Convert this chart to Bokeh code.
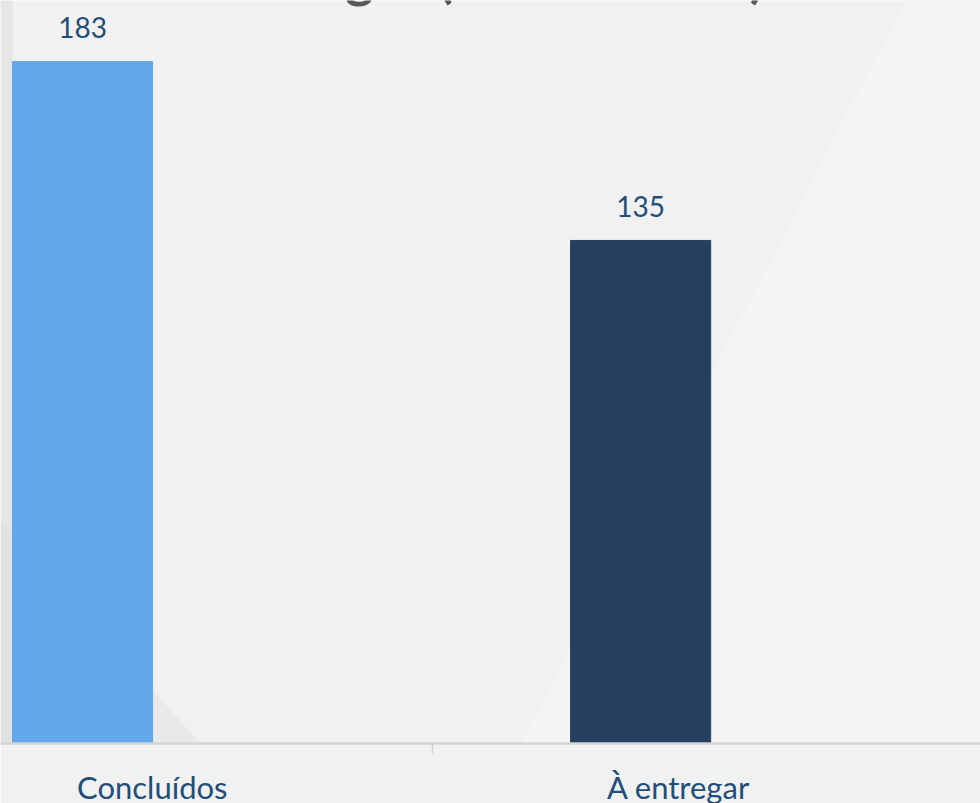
from bokeh.plotting import figure
from bokeh.models import Range1d, FixedTicker, ColumnDataSource
from bokeh.core.properties import value
from bokeh.embed import file_html
from bokeh.resources import INLINE

# ---- data ----
categories = ["Concluídos", "À entregar"]
counts = [183, 135]
bar_colors = ["#62A8EA", "#243F60"]
title_text = "Entregas (2020 - 2021)"

# ---- layout constants ----
X_START, X_END = -0.147, 1.609
Y_END = 199.4
BAR_WIDTH = 0.251
LABEL_SHIFT = [0.125, 0.068]
BOUNDARY = 0.627
PX = (X_END - X_START) / 980.0   # data units per pixel (x)
PY = Y_END / 743.0               # data units per pixel (y)

idx = list(range(len(categories)))
src = ColumnDataSource(dict(x=idx, top=counts, color=bar_colors,
                            label=[str(c) for c in counts]))

p = figure(frame_width=980, frame_height=743,
           x_range=Range1d(X_START, X_END), y_range=Range1d(0, Y_END),
           output_backend="svg", toolbar_location=None,
           y_axis_location=None, min_border=0)
p.background_fill_color = "#f1f1f1"
p.border_fill_color = "#f1f1f1"
p.outline_line_color = None
p.xgrid.visible = False
p.ygrid.visible = False

# subtle background decoration
def dx(px):
    return X_START + px * PX
def dy(py):
    return Y_END - py * PY
p.patch([dx(520), dx(980), dx(980), dx(905)], [dy(743), dy(743), dy(0), dy(0)],
        fill_color="#ffffff", fill_alpha=0.25, line_color=None)
p.patch([dx(0), dx(0), dx(200)], [dy(743), dy(520), dy(743)],
        fill_color="#d8d8d8", fill_alpha=0.3, line_color=None)
p.patch([dx(0), dx(12), dx(12), dx(0)], [dy(743), dy(743), dy(0), dy(0)],
        fill_color="#dcdcdc", fill_alpha=0.5, line_color=None)

# bars
p.vbar(x="x", top="top", width=BAR_WIDTH, bottom=0, color="color", source=src)

# value labels
p.text(x="x", y="top", text="label", source=src, text_align="center",
       text_baseline="alphabetic", y_offset=-34,
       text_font=value("Lato"), text_font_size="28px", text_color="#1F4E79")

# partially visible title (cut off at top)
p.text(x=[(X_START + X_END) / 2], y=[Y_END], text=[title_text],
       text_align="center", text_baseline="alphabetic", y_offset=-24,
       text_font=value("Lato"), text_font_style="bold",
       text_font_size="54px", text_color="#595959")

# x axis: category labels + boundary tick
tick_pos = [round(i + s, 3) for i, s in zip(idx, LABEL_SHIFT)]
ax = p.xaxis[0]
ax.ticker = FixedTicker(ticks=tick_pos, minor_ticks=[BOUNDARY])
ax.major_label_overrides = {t: c for t, c in zip(tick_pos, categories)}
ax.major_tick_out = 0
ax.major_tick_in = 0
ax.minor_tick_out = 10
ax.minor_tick_in = 0
ax.minor_tick_line_color = "#d0d0d0"
ax.minor_tick_line_width = 1.5
ax.axis_line_color = "#d4d4d4"
ax.axis_line_width = 2.5
ax.major_label_text_font = "Lato"
ax.major_label_text_font_size = "31px"
ax.major_label_text_color = "#1F4E79"
ax.major_label_standoff = 14

open("out.html", "w").write(file_html(p, INLINE))
